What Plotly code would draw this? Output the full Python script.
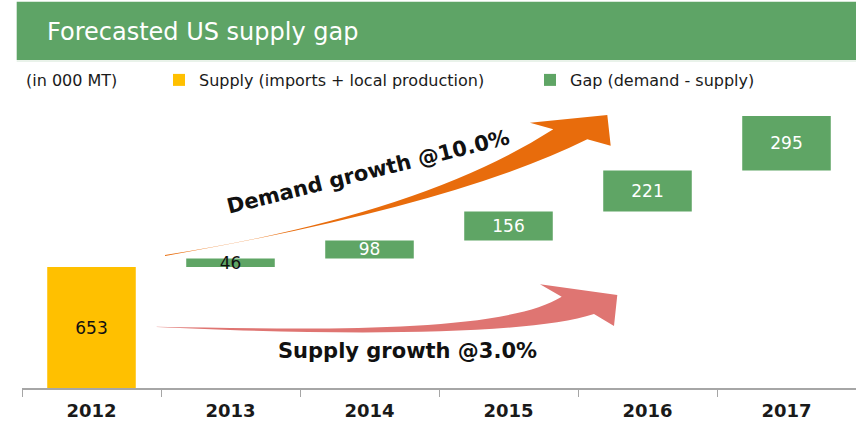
import plotly.graph_objects as go

# ---- data ----
years = ["2012", "2013", "2014", "2015", "2016", "2017"]
supply_years = ["2012"]
supply_values = [653]
gap_years = ["2013", "2014", "2015", "2016", "2017"]
gap_values = [46, 98, 156, 221, 295]
gap_label_colors = ["#111111", "white", "white", "white", "white"]

title_text = "Forecasted US supply gap"
unit_text = "(in 000 MT)"
supply_name = "Supply (imports + local production)"
gap_name = "Gap (demand - supply)"
demand_note = "Demand growth @10.0%"
supply_note = "Supply growth @3.0%"

# waterfall bases: each gap starts at the previous cumulative total
gap_bases = []
running = supply_values[0]
for g in gap_values:
    gap_bases.append(running)
    running += g

YELLOW = "#FFC000"
GREEN = "#5FA565"
ORANGE = "#E86C0C"
RED = "#DF7572"
FONT = "DejaVu Sans"

# ---- geometry helpers (pixel -> paper) ----
W_FIG, H_FIG = 856, 425
L, R, T, B = 22, 0, 100, 37
PW = W_FIG - L - R
PH = H_FIG - T - B
BASE_Y = H_FIG - B


def px(x):
    return (x - L) / PW


def py(y):
    return (BASE_Y - y) / PH


def pt(x, y):
    return f"{px(x):.5f},{py(y):.5f}"


fig = go.Figure()

fig.add_trace(go.Bar(
    x=supply_years, y=supply_values, name=supply_name, legend="legend",
    marker=dict(color=YELLOW, line=dict(width=0)),
    text=[str(v) for v in supply_values], textposition="inside",
    insidetextanchor="middle", textangle=0, constraintext="none",
    textfont=dict(family=FONT, size=17, color="#111111"),
    hoverinfo="skip",
))
fig.add_trace(go.Bar(
    x=gap_years, y=gap_values, base=gap_bases, name=gap_name, legend="legend2",
    marker=dict(color=GREEN, line=dict(width=0)),
    text=[str(v) for v in gap_values], textposition="inside",
    insidetextanchor="middle", textangle=0, constraintext="none",
    textfont=dict(family=FONT, size=17, color=gap_label_colors),
    hoverinfo="skip",
))

orange_path = (
    f"M{pt(165,255)} Q{pt(420,215)} {pt(553.3,129.3)} "
    f"L{pt(530,122.7)} L{pt(607.3,115)} L{pt(610.7,145.7)} L{pt(587.3,139.3)} "
    f"Q{pt(455,205)} {pt(165,256)} Z"
)
red_path = (
    f"M{pt(156.7,326.7)} C{pt(300,329)} {pt(500,335)} {pt(561.7,296.7)} "
    f"L{pt(540,284.3)} L{pt(617.3,295)} L{pt(614,326)} L{pt(594,314)} "
    f"C{pt(520,338)} {pt(300,334)} {pt(156.7,327)} Z"
)

shapes = [
    dict(type="rect", xref="paper", yref="paper",
         x0=px(16.7), x1=px(856), y0=py(60), y1=py(1.7),
         fillcolor="#5EA466", line=dict(width=0)),
    dict(type="line", xref="paper", yref="paper",
         x0=px(16.7), x1=px(856), y0=py(61), y1=py(61),
         line=dict(color="#D4E6D5", width=1)),
    dict(type="path", xref="paper", yref="paper", path=orange_path,
         fillcolor=ORANGE, line=dict(width=0)),
    dict(type="path", xref="paper", yref="paper", path=red_path,
         fillcolor=RED, line=dict(width=0)),
]

annotations = [
    dict(text=title_text, xref="paper", yref="paper", x=px(45), y=py(32),
         xanchor="left", yanchor="middle", showarrow=False,
         font=dict(family=FONT, size=24, color="white")),
    dict(text=unit_text, xref="paper", yref="paper", x=px(24), y=py(80),
         xanchor="left", yanchor="middle", showarrow=False,
         font=dict(family=FONT, size=16, color="#1a1a1a")),
    dict(text="<b>" + demand_note + "</b>", xref="paper", yref="paper",
         x=px(368), y=py(172), xanchor="center", yanchor="middle",
         textangle=-14, showarrow=False,
         font=dict(family=FONT, size=21, color="#111111")),
    dict(text="<b>" + supply_note + "</b>", xref="paper", yref="paper",
         x=px(407.5), y=py(351), xanchor="center", yanchor="middle",
         showarrow=False,
         font=dict(family=FONT, size=21, color="#111111")),
]

legend_common = dict(
    orientation="h", xanchor="left", yanchor="middle",
    font=dict(family=FONT, size=16, color="#1a1a1a"),
    bgcolor="rgba(0,0,0,0)", borderwidth=0,
    itemclick=False, itemdoubleclick=False,
)

fig.update_layout(
    width=W_FIG, height=H_FIG,
    margin=dict(l=L, r=R, t=T, b=B, pad=0),
    paper_bgcolor="white", plot_bgcolor="white",
    barmode="overlay", bargap=0.363,
    showlegend=True,
    legend=dict(x=px(159), y=py(80), **legend_common),
    legend2=dict(x=px(530), y=py(80), **legend_common),
    shapes=shapes,
    annotations=annotations,
    font=dict(family=FONT),
)

fig.update_xaxes(
    type="category", categoryorder="array", categoryarray=years,
    range=[-0.5, len(years) - 0.5],
    showline=True, linecolor="#A6A6A6", linewidth=1.5,
    ticks="outside", tickson="boundaries", ticklen=7, tickcolor="#A6A6A6",
    tickwidth=1.2, showgrid=False, zeroline=False, ticklabelstandoff=6,
    tickfont=dict(family=FONT, size=18, color="#1a1a1a", weight="bold"),
    fixedrange=True,
)
fig.update_yaxes(visible=False, range=[0, 1555], fixedrange=True)

fig.write_html("out.html", config={"displayModeBar": False},
               post_script="document.body.style.margin='0';")
